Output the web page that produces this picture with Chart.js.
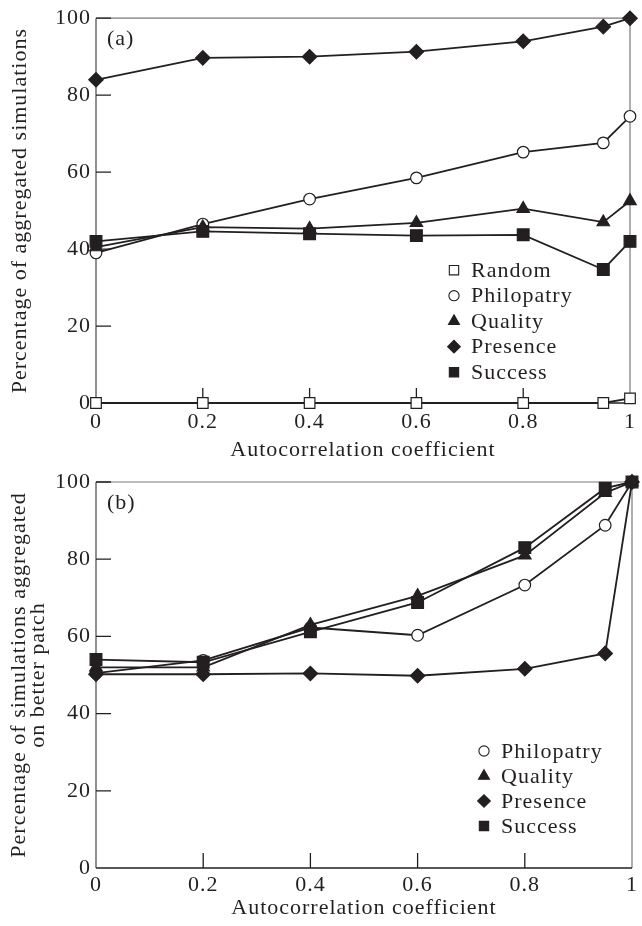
<!DOCTYPE html>
<html>
<head>
<meta charset="utf-8">
<script src="https://cdn.jsdelivr.net/npm/chart.js@4.4.1/dist/chart.umd.min.js"></script>
<style>
html, body { margin: 0; padding: 0; background: #ffffff; }
.panel { position: relative; width: 642px; height: 463px; }
canvas { display: block; }
</style>
</head>
<body>
<div class="panel"><canvas id="chartA" width="642" height="463"></canvas></div>
<div class="panel"><canvas id="chartB" width="642" height="463"></canvas></div>
<script>
// ---------- data ----------
const autocorrelation = [0, 0.2, 0.4, 0.6, 0.8, 0.95, 1];
const xTickValues = [0, 0.2, 0.4, 0.6, 0.8, 1];
const xTickLabels = ['0', '0.2', '0.4', '0.6', '0.8', '1'];
const yTickValues = [0, 20, 40, 60, 80, 100];
const yTickLabels = ['0', '20', '40', '60', '80', '100'];

// panel (a): percentage of aggregated simulations
const aRandom     = [0, 0, 0, 0, 0, 0, 1.2];
const aPhilopatry = [39, 46.5, 53, 58.5, 65.2, 67.6, 74.5];
const aQuality    = [40.5, 45.7, 45.3, 46.8, 50.5, 47, 52.5];
const aPresence   = [84, 89.7, 90, 91.3, 94, 97.8, 100];
const aSuccess    = [42, 44.6, 44, 43.5, 43.7, 34.7, 42];

// panel (b): percentage of simulations aggregated on better patch
const bPhilopatry = [50.5, 53.8, 62.3, 60.3, 73.3, 88.8, 100];
const bQuality    = [52, 52, 63, 70.5, 81, 97.2, 100];
const bPresence   = [50.2, 50.2, 50.4, 49.8, 51.6, 55.6, 100];
const bSuccess    = [54, 53.3, 61.2, 68.8, 83, 98.4, 100];

// ---------- styling ----------
const INK = '#231f20';
const FRAME = '#7a7a7a';
const FONT_FAMILY = "'Liberation Serif', 'Times New Roman', serif";
const FONT = { family: FONT_FAMILY, size: 22 };

const styles = {
  Random:     { pointStyle: 'rect',     radius: 7.5, fill: '#ffffff', order: 0 },
  Success:    { pointStyle: 'rect',     radius: 8.3, fill: INK,       order: 1 },
  Quality:    { pointStyle: 'triangle', radius: 7.2, fill: INK,       order: 2 },
  Presence:   { pointStyle: 'rectRot',  radius: 7.2, fill: INK,       order: 3 },
  Philopatry: { pointStyle: 'circle',   radius: 5.8, fill: '#ffffff', order: 4 }
};

function makeDataset(label, values) {
  const s = styles[label];
  return {
    label: label,
    data: autocorrelation.map((x, i) => ({ x: x, y: values[i] })),
    order: s.order,
    borderColor: INK,
    borderWidth: 1.8,
    pointStyle: s.pointStyle,
    pointRadius: s.radius,
    pointBackgroundColor: s.fill,
    pointBorderColor: INK,
    pointBorderWidth: 1.2,
    tension: 0,
    fill: false,
    clip: false
  };
}

// letter spacing to approximate the wider book face of the original
const spacingPlugin = {
  id: 'spacing',
  beforeUpdate(chart) { try { chart.ctx.letterSpacing = '1px'; } catch (e) {} },
  beforeDraw(chart) { try { chart.ctx.letterSpacing = '1px'; } catch (e) {} }
};

// frame with inward ticks
const framePlugin = {
  id: 'frame',
  beforeDatasetsDraw(chart) {
    const { ctx, chartArea: a, scales } = chart;
    ctx.save();
    ctx.lineCap = 'butt';
    ctx.strokeStyle = FRAME;
    ctx.lineWidth = 1.2;
    ctx.beginPath();
    ctx.moveTo(a.left, a.top);
    ctx.lineTo(a.right, a.top);
    ctx.lineTo(a.right, a.bottom);
    ctx.stroke();
    ctx.strokeStyle = '#555555';
    ctx.lineWidth = 1.3;
    ctx.beginPath();
    ctx.moveTo(a.left, a.top);
    ctx.lineTo(a.left, a.bottom);
    ctx.stroke();
    ctx.strokeStyle = INK;
    ctx.lineWidth = 1.5;
    ctx.beginPath();
    ctx.moveTo(a.left, a.bottom);
    ctx.lineTo(a.right, a.bottom);
    ctx.stroke();
    const len = 15;
    ctx.strokeStyle = INK;
    ctx.lineWidth = 1.3;
    ctx.beginPath();
    yTickValues.forEach(v => {
      if (v === 0) return;
      const y = scales.y.getPixelForValue(v);
      ctx.moveTo(a.left, y);
      ctx.lineTo(a.left + len, y);
    });
    xTickValues.forEach(v => {
      if (v === 0 || v === 1) return;
      const x = scales.x.getPixelForValue(v);
      ctx.moveTo(x, a.bottom);
      ctx.lineTo(x, a.bottom - len);
    });
    ctx.stroke();
    ctx.restore();
  }
};

// panel tag + in-plot legend
const annotPlugin = {
  id: 'annot',
  afterDraw(chart, args, opts) {
    const { ctx, chartArea: a } = chart;
    ctx.save();
    try { ctx.letterSpacing = '1px'; } catch (e) {}
    ctx.fillStyle = INK;
    ctx.font = FONT.size + 'px ' + FONT_FAMILY;
    ctx.textAlign = 'left';
    ctx.textBaseline = 'middle';
    ctx.fillText(opts.tag, a.left + opts.tagDx, a.top + opts.tagDy);

    const ds = chart.data.datasets;
    ds.forEach((d, i) => {
      const y = a.top + opts.legendDy + i * opts.legendStep;
      const mx = a.left + opts.legendDx;
      ctx.save();
      ctx.fillStyle = d.pointBackgroundColor;
      ctx.strokeStyle = INK;
      ctx.lineWidth = 1.1;
      const r = Math.min(d.pointRadius, 7.5) * 0.88;
      if (Chart.helpers && Chart.helpers.drawPoint) {
        Chart.helpers.drawPoint(ctx, { pointStyle: d.pointStyle, radius: r, rotation: 0, borderWidth: 1.1 }, mx, y);
      }
      ctx.restore();
      ctx.fillStyle = INK;
      ctx.fillText(d.label, mx + 17, y + 1);
    });
    ctx.restore();
  }
};

function makeChart(id, datasets, cfg) {
  return new Chart(document.getElementById(id), {
    type: 'line',
    data: { datasets: datasets },
    plugins: [spacingPlugin, framePlugin, annotPlugin],
    options: {
      responsive: false,
      animation: false,
      events: [],
      layout: { padding: { top: cfg.top, right: 6, left: 0, bottom: 0 } },
      plugins: {
        legend: { display: false },
        tooltip: { enabled: false },
        annot: cfg.annot
      },
      scales: {
        x: {
          type: 'linear',
          min: 0,
          max: 1,
          afterBuildTicks: s => { s.ticks = xTickValues.map(v => ({ value: v })); },
          afterFit: s => { s.height = cfg.xHeight; },
          ticks: {
            callback: (v, i) => xTickLabels[i],
            autoSkip: false,
            maxRotation: 0,
            padding: cfg.xTickPad,
            color: INK,
            font: FONT
          },
          grid: { display: false, drawTicks: false },
          border: { display: false },
          title: {
            display: true,
            text: 'Autocorrelation coefficient',
            color: INK,
            font: FONT,
            padding: { top: 0, bottom: cfg.xTitlePad }
          }
        },
        y: {
          type: 'linear',
          min: 0,
          max: 100,
          afterBuildTicks: s => { s.ticks = yTickValues.map(v => ({ value: v })); },
          afterFit: s => { s.width = 96; },
          ticks: {
            callback: (v, i) => yTickLabels[i],
            padding: 5,
            color: INK,
            font: FONT
          },
          grid: { display: false, drawTicks: false },
          border: { display: false },
          title: {
            display: true,
            text: cfg.yTitle,
            color: INK,
            font: Object.assign({}, FONT, { lineHeight: cfg.yLineHeight }),
            padding: { top: cfg.yTitlePad, bottom: 0 }
          }
        }
      }
    }
  });
}

makeChart('chartA', [
  makeDataset('Random', aRandom),
  makeDataset('Philopatry', aPhilopatry),
  makeDataset('Quality', aQuality),
  makeDataset('Presence', aPresence),
  makeDataset('Success', aSuccess)
], {
  top: 17, xHeight: 60, xTickPad: 6, xTitlePad: 0,
  yTitle: 'Percentage of aggregated simulations', yTitlePad: 7, yLineHeight: 1.2,
  annot: { tag: '(a)', tagDx: 11, tagDy: 21, legendDx: 358, legendDy: 252, legendStep: 25.5 }
});

makeChart('chartB', [
  makeDataset('Philopatry', bPhilopatry),
  makeDataset('Quality', bQuality),
  makeDataset('Presence', bPresence),
  makeDataset('Success', bSuccess)
], {
  top: 19, xHeight: 58, xTickPad: 4, xTitlePad: 5,
  yTitle: ['Percentage of simulations aggregated', 'on better patch'], yTitlePad: 10, yLineHeight: 0.86,
  annot: { tag: '(b)', tagDx: 11, tagDy: 21, legendDx: 388, legendDy: 269, legendStep: 25 }
});
</script>
</body>
</html>
